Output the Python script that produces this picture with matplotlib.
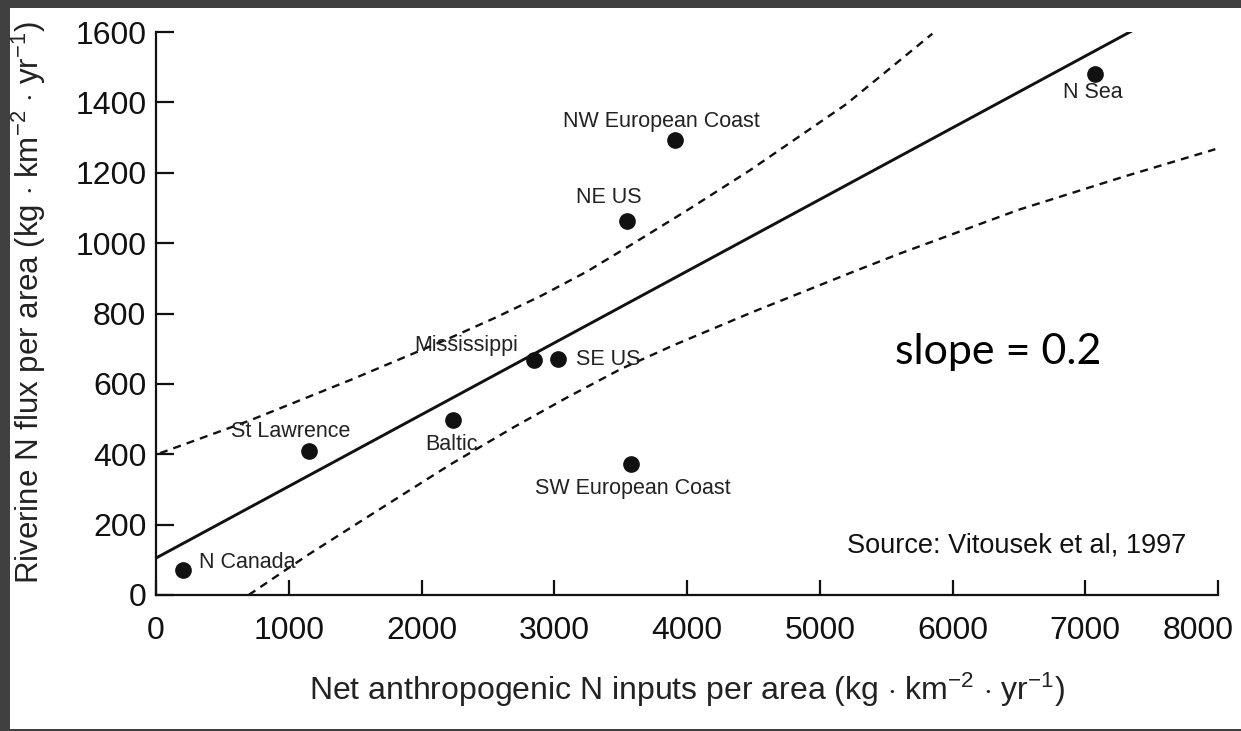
import matplotlib.pyplot as plt
import matplotlib.transforms as mtransforms
from matplotlib.patches import Rectangle

# -------------------------------------------------------------------
# Data (Vitousek et al, 1997)
# -------------------------------------------------------------------
regions = ["N Canada", "St Lawrence", "Baltic", "Mississippi", "SE US",
           "SW European Coast", "NE US", "NW European Coast", "N Sea"]
n_inputs = [200, 1150, 2240, 2850, 3030, 3575, 3545, 3910, 7070]
n_flux = [70, 408, 497, 669, 670, 372, 1063, 1292, 1481]

# label offsets in pixels relative to each point, and alignment
label_dx = [16, -18, -2, -16, 18, 2, -18, -14, -2]
label_dy = [8, 20, -24, 14, 0, -24, 23, 19, -19]
label_ha = ["left", "center", "center", "right", "left", "center", "center", "center", "center"]

# regression line and its confidence band
fit_x = [0, 7400]
fit_y = [105, 1613]
upper_x = [30, 700, 1471, 2200, 2550, 2900, 3250, 3600, 4000, 4474, 5200, 5848]
upper_y = [403, 495, 612, 728, 787, 850, 920, 1000, 1093, 1207, 1395, 1595]
lower_x = [698, 1149, 1719, 2222, 2700, 3100, 3500, 3900, 4500, 5248, 5601, 6500, 7300, 7980]
lower_y = [0, 115, 252, 372, 478, 562, 642, 710, 805, 918, 970, 1095, 1190, 1267]

x_ticks = [0, 1000, 2000, 3000, 4000, 5000, 6000, 7000, 8000]
y_ticks = [0, 200, 400, 600, 800, 1000, 1200, 1400, 1600]

# -------------------------------------------------------------------
# Plotting
# -------------------------------------------------------------------
plt.rcParams["font.family"] = ["Liberation Sans", "DejaVu Sans"]
plt.rcParams["mathtext.fontset"] = "custom"
plt.rcParams["mathtext.rm"] = "Liberation Sans"
plt.rcParams["mathtext.it"] = "Liberation Sans:italic"

W, H = 1241, 731
fig = plt.figure(figsize=(W / 100, H / 100), dpi=100)
fig.patch.set_facecolor("#404040")
# white page inside the dark frame
fig.patches.append(Rectangle((10 / W, 2 / H), 1, (H - 10) / H,
                             transform=fig.transFigure, facecolor="white",
                             edgecolor="none", zorder=-5))

left, right, top, bottom = 156, 1218, 32, 595
ax = fig.add_axes([left / W, 1 - bottom / H, (right - left) / W, (bottom - top) / H])
ax.set_facecolor("none")
ax.set_xlim(0, 8000)
ax.set_ylim(0, 1600)

ink = "#111111"
ax.plot(fit_x, fit_y, color=ink, lw=2.1, solid_capstyle="butt", zorder=2)
ax.plot(upper_x, upper_y, color=ink, lw=1.7, linestyle=(0, (3.4, 2.6)), zorder=2)
ax.plot(lower_x, lower_y, color=ink, lw=1.7, linestyle=(0, (3.4, 2.6)), zorder=2)
ax.plot(n_inputs, n_flux, "o", color=ink, ms=11, zorder=3, clip_on=False)

for name, x, y, dx, dy, ha in zip(regions, n_inputs, n_flux, label_dx, label_dy, label_ha):
    ax.annotate(name, (x, y), xytext=(dx, dy), textcoords="offset pixels",
                ha=ha, va="center", fontsize=15.5, color="#222222")

# axes styling
for side in ["top", "right"]:
    ax.spines[side].set_visible(False)
for side in ["left", "bottom"]:
    ax.spines[side].set_linewidth(1.6)
    ax.spines[side].set_color(ink)

ax.set_xticks(x_ticks)
ax.set_yticks(y_ticks)
ax.tick_params(axis="y", direction="in", length=13, width=1.6, labelsize=23, pad=7, colors=ink)
ax.tick_params(axis="x", direction="in", length=11, width=1.6, labelsize=23, pad=15, colors=ink)

# last x tick label sits a bit left of its tick, as in the original
last = ax.get_xticklabels()[-1]
last.set_transform(last.get_transform() + mtransforms.Affine2D().translate(-20, 0))

ax.set_xlabel(r"Net anthropogenic N inputs per area (kg $\cdot$ km$^{-2}$ $\cdot$ yr$^{-1}$)",
              fontsize=23, color="#222222")
ax.xaxis.set_label_coords(0.5, -(690 - 595) / (bottom - top))
ax.xaxis.label.set_va("center")
ax.set_ylabel(r"Riverine N flux per area (kg $\cdot$ km$^{-2}$ $\cdot$ yr$^{-1}$)",
              fontsize=22.5, color="#222222")
ax.yaxis.set_label_coords(-(left - 29) / (right - left), (bottom - 303) / (bottom - top))
ax.yaxis.label.set_va("center")

ax.text(5567, 690, "slope = 0.2", fontsize=31, family=["Lato", "DejaVu Sans"],
        color="black", va="center", ha="left")
ax.text(5205, 142, "Source: Vitousek et al, 1997", fontsize=19.5, color="#111111",
        va="center", ha="left")

fig.savefig("out.png", dpi=100, facecolor=fig.get_facecolor())
